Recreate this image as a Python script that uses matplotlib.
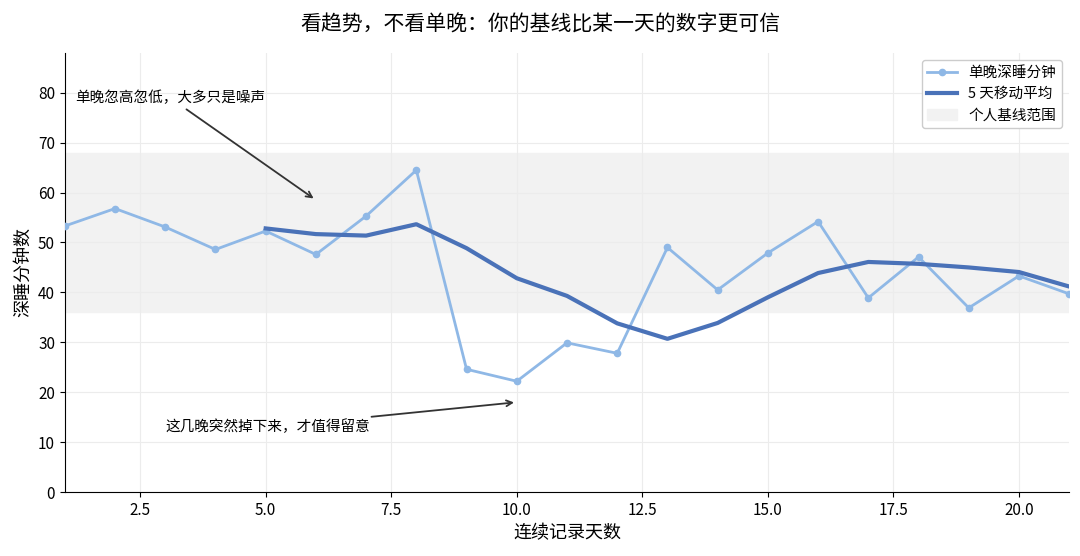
import matplotlib
matplotlib.use("Agg")
import matplotlib.pyplot as plt
import pandas as pd

plt.rcParams['font.family'] = ['Noto Sans CJK SC', 'DejaVu Sans']
plt.rcParams['axes.unicode_minus'] = False

days = list(range(1, 22))
sleep = [53.3, 56.8, 53.1, 48.6, 52.3, 47.6, 55.3, 64.5, 24.6, 22.2, 29.9,
         27.8, 49.0, 40.5, 47.9, 54.2, 38.9, 47.1, 36.9, 43.3, 39.7]
band_low, band_high = 36, 68

ma = pd.Series(sleep).rolling(5).mean()

fig, ax = plt.subplots(figsize=(10.8, 5.56), dpi=100)
fig.subplots_adjust(left=0.06, right=0.99, top=0.905, bottom=0.115)

ax.axhspan(band_low, band_high, color='#f2f2f2', label='个人基线范围', zorder=0)
ax.plot(days, sleep, color='#8fb8e6', lw=2, marker='o', ms=4.5, label='单晚深睡分钟', zorder=3)
ax.plot(days, ma, color='#4a72b8', lw=3, label='5 天移动平均', zorder=4)

ax.set_xlim(1, 21)
ax.set_ylim(0, 88)
ax.grid(True, color='#ececec', lw=0.8)
ax.set_axisbelow(True)
for s in ['top', 'right']:
    ax.spines[s].set_visible(False)
ax.tick_params(labelsize=11)
ax.set_xlabel('连续记录天数', fontsize=13)
ax.set_ylabel('深睡分钟数', fontsize=13)
fig.suptitle('看趋势，不看单晚：你的基线比某一天的数字更可信', fontsize=15, y=0.975)

h, l = ax.get_legend_handles_labels()
order = [1, 2, 0]
ax.legend([h[i] for i in order], [l[i] for i in order], loc='upper right', fontsize=10.5, framealpha=1)

ax.annotate('单晚忽高忽低，大多只是噪声', xy=(6, 58.5), xytext=(1.2, 79),
            fontsize=10.5, ha='left', va='center',
            arrowprops=dict(arrowstyle='->', color='#333333', lw=1.3))
ax.annotate('这几晚突然掉下来，才值得留意', xy=(10, 18), xytext=(3, 13),
            fontsize=10.5, ha='left', va='center',
            arrowprops=dict(arrowstyle='->', color='#333333', lw=1.3))

fig.savefig('out.png')
